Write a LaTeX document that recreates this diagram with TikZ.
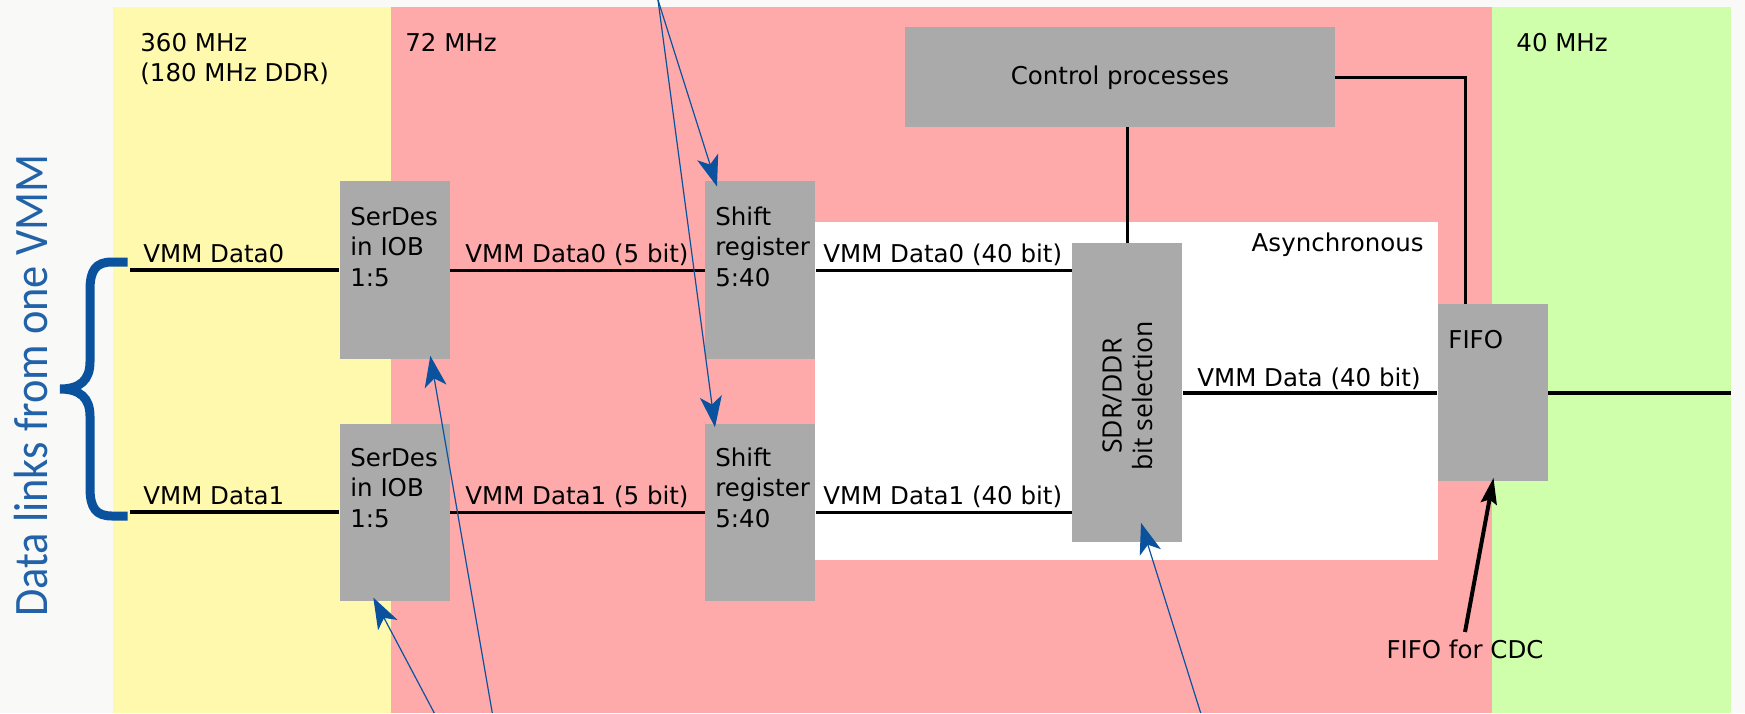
\documentclass[tikz,border=0pt]{standalone}
\usepackage{fontspec}
\usepackage{graphicx}
\setmainfont{DejaVu Sans}
\newfontfamily\osfont{Open Sans}
\newfontfamily\cbfont{Carlito}
\usetikzlibrary{arrows.meta,calc}
\definecolor{bgc}{HTML}{F9F9F7}
\definecolor{yelc}{HTML}{FFF9AE}
\definecolor{pinkc}{HTML}{FFAAAA}
\definecolor{grnc}{HTML}{CFFFAA}
\definecolor{boxc}{HTML}{AAAAAA}
\definecolor{bluec}{HTML}{0B529E}
\definecolor{bluet}{HTML}{2262A8}
\newcommand\stk[1]{\vtop{\baselineskip=15.25pt\halign{##\hfil\cr#1\crcr}}}
\tikzset{
  blk/.style={fill=boxc, draw=none, inner sep=0pt, anchor=north west, minimum width=55pt},
  lbl/.style={inner sep=0pt, anchor=base west},
  wire/.style={line width=1.6pt, draw=black},
  ptr/.style={draw=bluec, line width=0.6pt, -{Stealth[length=15.5pt,width=11pt,inset=4pt,fill=bluec]}},
  cdcptr/.style={draw=black, line width=2pt, -{Stealth[length=13pt,width=8pt,inset=2pt]}}
}
\begin{document}
\begin{tikzpicture}[x=0.5pt,y=-0.5pt,font=\fontsize{12.25}{15.25}\selectfont]
\useasboundingbox (0,0) rectangle (1745,713);
% backgrounds
\fill[bgc] (0,0) rectangle (1745,713);
\fill[yelc] (112.7,7) rectangle (391,713);
\fill[pinkc] (391,7) rectangle (1491.5,713);
\fill[grnc] (1491.5,7) rectangle (1730.6,713);
\fill[white] (815,222) rectangle (1438,560);
% boxes
\node[blk, minimum height=88.75pt] (serdes0) at (339.3,181) {};
\node[blk, minimum height=88.75pt] (serdes1) at (339.3,423.3) {};
\node[blk, minimum height=88.75pt] (shift0) at (705,181) {};
\node[blk, minimum height=88.75pt] (shift1) at (705,423.3) {};
\node[blk, minimum height=149.5pt] (sdr) at (1072,243) {};
\node[blk, minimum width=215pt, minimum height=49.7pt] (ctrl) at (904.6,27) {};
\node[blk, minimum height=88.5pt] (fifo) at (1437.3,304) {};
% box texts
\node[lbl] (serdes0t) at (350,225) {\stk{SerDes\cr in IOB\cr 1:5}};
\node[lbl] (serdes1t) at (350,466) {\stk{SerDes\cr in IOB\cr 1:5}};
\node[lbl] (shift0t) at (715,225) {\stk{Shift\cr register\cr 5:40}};
\node[lbl] (shift1t) at (715,466) {\stk{Shift\cr register\cr 5:40}};
\node[lbl, anchor=base] (ctrlt) at ($(ctrl.center)+(0,7.5)$) {Control processes};
\node[lbl] (fifot) at (1448,348) {FIFO};
\node[rotate=90, inner sep=0pt, align=center, font=\osfont\fontsize{13.3}{15.25}\selectfont] (sdrt) at ($(sdr.center)+(0,3)$) {SDR/DDR\\bit selection};
% clock labels
\node[lbl] (f360) at (140,51) {\stk{360 MHz\cr(180 MHz DDR)}};
\node[lbl] (f72) at (405,51) {72 MHz};
\node[lbl] (f40) at (1516,51) {40 MHz};
\node[lbl, anchor=base east] (async) at (1424,251) {Asynchronous};
% wire labels
\node[lbl] (l0) at (143,262) {VMM Data0};
\node[lbl] (l1) at (143,504) {VMM Data1};
\node[lbl] (l05) at (465,262) {VMM Data0 (5 bit)};
\node[lbl] (l15) at (465,504) {VMM Data1 (5 bit)};
\node[lbl] (l040) at (823,262) {VMM Data0 (40 bit)};
\node[lbl] (l140) at (823,504) {VMM Data1 (40 bit)};
\node[lbl] (ld40) at (1197,386) {VMM Data (40 bit)};
% wires
\coordinate (in0) at (130,270);
\coordinate (in1) at (130,512);
\coordinate (out) at (1730.6,392.5);
\coordinate (fifoin) at ($(fifo.north west)+(28,0)$);
\draw[wire] (in0) -- (in0 -| serdes0.west);
\draw[wire] (in1) -- (in1 -| serdes1.west);
\draw[wire] (serdes0) -- (shift0);
\draw[wire] (serdes1) -- (shift1);
\draw[wire] (shift0.east) -- (shift0.east -| sdr.west);
\draw[wire] (shift1.east) -- (shift1.east -| sdr.west);
\draw[wire] (sdr.east |- fifo.west) -- (fifo.west);
\draw[wire] (fifo.east) -- (fifo.east -| out);
\draw[wire] (sdr.north) -- (sdr.north |- ctrl.south);
\draw[wire] (ctrl.east) -| (fifoin);
% brace and vertical text
\draw[bluec, line width=4.5pt] (127.7,262) -- (112,262)
  .. controls (96,262) and (90,270) .. (90,290) -- (90,362)
  .. controls (90,380) and (80,389) .. (60,389)
  .. controls (80,389) and (90,398) .. (90,416) -- (90,488)
  .. controls (90,508) and (96,516) .. (112,516) -- (127.7,516);
\node[rotate=90, anchor=base west, inner sep=0pt, text=bluet, font=\cbfont\fontsize{24}{28}\selectfont] (vt) at (47,617) {\scalebox{0.925}[1]{Data links from one VMM}};
% CDC arrow
\node[lbl, anchor=base] (cdc) at (1465,658) {FIFO for CDC};
\draw[cdcptr] ($(cdc.north)+(0,-7)$) -- ($(fifo.south west)+(56.2,-4)$);
% blue pointers
\coordinate (src) at (658,0);
\coordinate (b1) at (492.3,713);
\coordinate (b2) at (434.3,713);
\coordinate (b3) at (1200.7,713);
\draw[ptr] (src) -- ($(shift0.north west)+(12,5.5)$);
\draw[ptr] (src) -- ($(shift1.north west)+(10,4)$);
\draw[ptr] (b1) -- ($(serdes0.south west)+(91,-3.5)$);
\draw[ptr] (b2) -- ($(serdes1.south west)+(34,-4)$);
\draw[ptr] (b3) -- ($(sdr.south west)+(69,-20)$);
\end{tikzpicture}
\end{document}
